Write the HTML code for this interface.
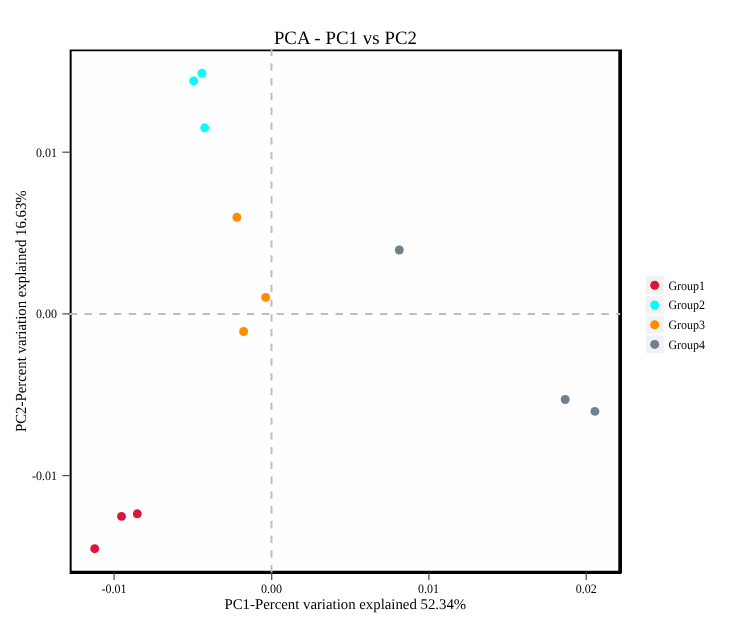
<!DOCTYPE html>
<html>
<head>
<meta charset="utf-8">
<title>PCA - PC1 vs PC2</title>
<style>
html,body{margin:0;padding:0;background:#ffffff;}
body{width:750px;height:625px;overflow:hidden;font-family:"Liberation Serif",serif;}
svg{display:block;will-change:transform;}
text{font-family:"Liberation Serif",serif;fill:#000;text-rendering:geometricPrecision;}
.tick{font-size:12px;fill:#1a1a1a;}
.leg{font-size:12px;fill:#000;}
.axt{font-size:14.8px;fill:#000;}
.ttl{font-size:18.8px;fill:#000;}
</style>
</head>
<body>
<svg width="750" height="625" viewBox="0 0 750 625">
  <rect x="0" y="0" width="750" height="625" fill="#ffffff"/>
  <!-- panel background -->
  <rect x="70" y="50" width="551" height="523" fill="#fefefe"/>

  <!-- points -->
  <g>
    <circle cx="94.7" cy="548.7" r="4.45" fill="#DC143C"/>
    <circle cx="121.5" cy="516.4" r="4.45" fill="#DC143C"/>
    <circle cx="137.3" cy="513.8" r="4.45" fill="#DC143C"/>
    <circle cx="201.9" cy="73.3" r="4.45" fill="#00FFFF"/>
    <circle cx="193.6" cy="80.9" r="4.45" fill="#00FFFF"/>
    <circle cx="204.7" cy="127.8" r="4.45" fill="#00FFFF"/>
    <circle cx="236.9" cy="217.3" r="4.45" fill="#FF8C00"/>
    <circle cx="265.7" cy="297.4" r="4.45" fill="#FF8C00"/>
    <circle cx="243.6" cy="331.5" r="4.45" fill="#FF8C00"/>
    <circle cx="399.3" cy="250.0" r="4.45" fill="#708090"/>
    <circle cx="565.2" cy="399.5" r="4.45" fill="#708090"/>
    <circle cx="594.9" cy="411.4" r="4.45" fill="#708090"/>
  </g>

  <!-- panel border -->
  <path fill="#000" fill-rule="evenodd" d="M69.65 49.6 H622 V572.6 Q622 573.9 620.7 573.9 H69.65 Z M71.65 51.15 H618.3 V570.8 H71.65 Z"/>

  <!-- dashed reference lines (drawn over border) -->
  <line x1="271.5" y1="48.6" x2="271.5" y2="573.9" stroke="#BEBEBE" stroke-width="1.95" stroke-dasharray="7.38 7.375"/>
  <line x1="69.7" y1="314" x2="620.2" y2="314" stroke="#BEBEBE" stroke-width="1.95" stroke-dasharray="7.38 7.39"/>

  <!-- ticks -->
  <g stroke="#505050" stroke-width="1.25">
    <line x1="62.3" y1="152.2" x2="69.7" y2="152.2"/>
    <line x1="62.3" y1="313.9" x2="69.7" y2="313.9"/>
    <line x1="62.3" y1="475.6" x2="69.7" y2="475.6"/>
    <line x1="114.1" y1="572.4" x2="114.1" y2="580.1"/>
    <line x1="271.7" y1="572.4" x2="271.7" y2="580.1"/>
    <line x1="428.9" y1="572.4" x2="428.9" y2="580.1"/>
    <line x1="586.2" y1="572.4" x2="586.2" y2="580.1"/>
  </g>

  <!-- tick labels -->
  <g class="tick" text-anchor="end">
    <text transform="translate(57,156.6) scale(1,1.06)">0.01</text>
    <text transform="translate(57,318.3) scale(1,1.06)">0.00</text>
    <text transform="translate(57,480.0) scale(1,1.06)">-0.01</text>
  </g>
  <g class="tick" text-anchor="middle">
    <text transform="translate(114.1,592.8) scale(1,1.06)">-0.01</text>
    <text transform="translate(271.5,592.8) scale(1,1.06)">0.00</text>
    <text transform="translate(428.6,592.8) scale(1,1.06)">0.01</text>
    <text transform="translate(586.2,592.8) scale(1,1.06)">0.02</text>
  </g>

  <!-- axis titles -->
  <text class="axt" x="345.3" y="608.9" text-anchor="middle">PC1-Percent variation explained 52.34%</text>
  <text class="axt" transform="translate(26.2,311.2) rotate(-90) scale(1,1.04)" text-anchor="middle">PC2-Percent variation explained 16.63%</text>

  <!-- title -->
  <text class="ttl" x="345.4" y="43.85" text-anchor="middle" word-spacing="0.25">PCA - PC1 vs PC2</text>

  <!-- legend -->
  <g>
    <rect x="645.9" y="276.2" width="17.9" height="17.9" fill="#F2F2F2"/>
    <rect x="645.9" y="295.9" width="17.9" height="17.9" fill="#F2F2F2"/>
    <rect x="645.9" y="315.6" width="17.9" height="17.9" fill="#F2F2F2"/>
    <rect x="645.9" y="335.3" width="17.9" height="17.9" fill="#F2F2F2"/>
    <circle cx="654.7" cy="285.3" r="4.5" fill="#DC143C"/>
    <circle cx="654.7" cy="305.0" r="4.5" fill="#00FFFF"/>
    <circle cx="654.7" cy="324.7" r="4.5" fill="#FF8C00"/>
    <circle cx="654.7" cy="344.4" r="4.5" fill="#708090"/>
    <text class="leg" transform="translate(668.4,289.75) scale(1,1.06)">Group1</text>
    <text class="leg" transform="translate(668.4,309.45) scale(1,1.06)">Group2</text>
    <text class="leg" transform="translate(668.4,329.15) scale(1,1.06)">Group3</text>
    <text class="leg" transform="translate(668.4,348.85) scale(1,1.06)">Group4</text>
  </g>
</svg>
</body>
</html>
